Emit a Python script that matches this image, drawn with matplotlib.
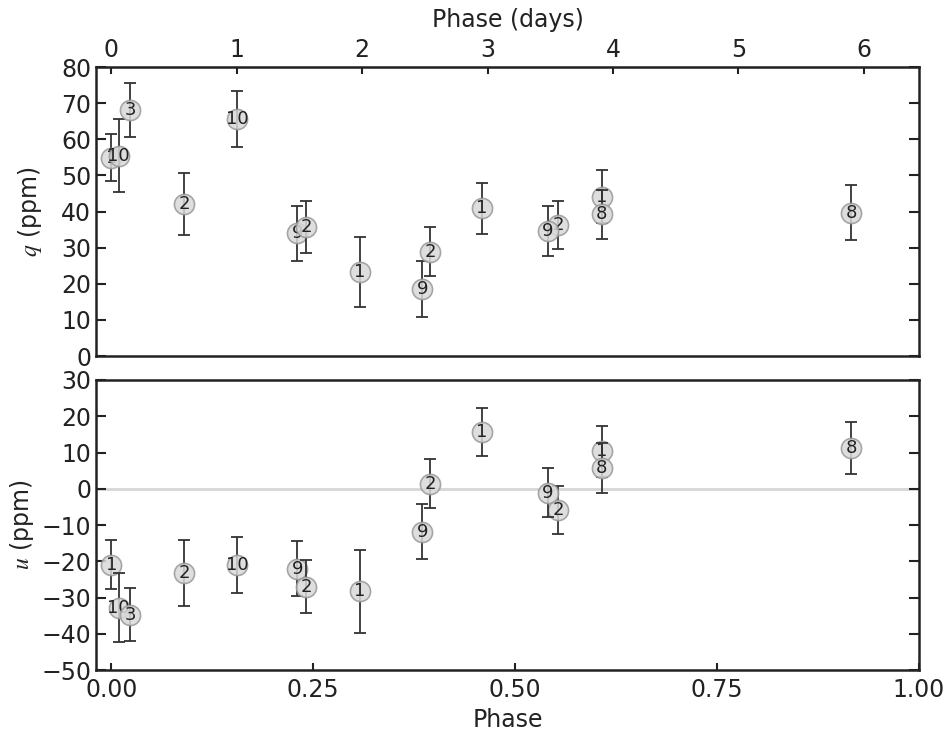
import matplotlib
matplotlib.use("Agg")
import matplotlib.pyplot as plt

# polarimetry per night, phase folded
period = 6.44  # days per phase unit (top axis)

night = ["1", "10", "3", "2", "10", "9", "2", "1", "9", "2", "1", "2", "9", "1", "8", "8"]
phase = [0.000, 0.009, 0.023, 0.090, 0.156, 0.230, 0.241, 0.308, 0.385, 0.395,
         0.459, 0.553, 0.540, 0.607, 0.607, 0.916]
q = [54.9, 55.4, 68.1, 42.0, 65.7, 34.0, 35.8, 23.2, 18.6, 28.9,
     40.9, 36.3, 34.6, 44.1, 39.2, 39.7]
q_err = [6.5, 10.1, 7.4, 8.6, 7.7, 7.6, 7.2, 9.7, 7.8, 6.7,
         7.0, 6.6, 6.9, 7.3, 6.8, 7.7]
u = [-20.9, -32.8, -34.8, -23.3, -21.0, -22.0, -27.0, -28.3, -11.8, 1.4,
     15.6, -5.9, -1.1, 10.3, 5.7, 11.3]
u_err = [6.7, 9.6, 7.3, 9.1, 7.7, 7.6, 7.4, 11.5, 7.6, 6.7,
         6.7, 6.6, 6.8, 7.1, 6.9, 7.2]

day_ticks = [0, 1, 2, 3, 4, 5, 6]

plt.rcParams['mathtext.fontset'] = 'stix'
plt.rcParams['font.size'] = 17

fig = plt.figure(figsize=(9.51, 7.35), dpi=100)
ax1 = fig.add_axes([0.101, 0.5156, 0.8654, 0.3932])
ax2 = fig.add_axes([0.101, 0.0884, 0.8654, 0.3946])


def draw_points(ax, y, yerr):
    for i in range(len(phase)):
        z = 3 + 3 * i
        ax.errorbar(phase[i], y[i], yerr=yerr[i], fmt='none', ecolor='#333333',
                    elinewidth=1.3, capsize=4, capthick=1.3, zorder=z)
        ax.plot(phase[i], y[i], 'o', ms=14.5, mfc='#d9d9d9', mec='#999999',
                mew=1.2, alpha=0.85, zorder=z + 1)
        ax.text(phase[i], y[i], night[i], fontsize=13, color='#222222',
                ha='center', va='center', zorder=z + 2)


def style(ax):
    for s in ax.spines.values():
        s.set_linewidth(1.8)
        s.set_color('#222222')
    ax.tick_params(axis='y', which='both', left=True, right=True,
                   direction='inout', length=7, width=1.5, labelsize=17,
                   colors='#222222')
    ax.tick_params(axis='y', which='both', right=True, direction='in')
    ax.set_xlim(-0.019, 1.0)


draw_points(ax1, q, q_err)
style(ax1)
ax1.set_ylim(0, 80)
ax1.set_yticks(range(0, 81, 10))
ax1.tick_params(axis='x', bottom=False, labelbottom=False)
ax1.set_ylabel(r'$q$ (ppm)', fontsize=17, labelpad=12, color='#222222')

top = ax1.secondary_xaxis('top', functions=(lambda p: p * period, lambda d: d / period))
top.set_xticks(day_ticks)
top.tick_params(direction='in', length=5, width=1.5, labelsize=17, colors='#222222')
top.set_xlabel('Phase (days)', fontsize=17, labelpad=8, color='#222222')

ax2.axhline(0, color='#d6d6d6', lw=2, zorder=1)
draw_points(ax2, u, u_err)
style(ax2)
ax2.set_ylim(-50, 30)
ax2.set_yticks(range(-50, 31, 10))
ax2.set_xticks([0, 0.25, 0.5, 0.75, 1.0])
ax2.set_xticklabels(['0.00', '0.25', '0.50', '0.75', '1.00'])
ax2.tick_params(axis='x', direction='in', length=5, width=1.5, labelsize=17, pad=6,
                colors='#222222')
ax2.set_xlabel('Phase', fontsize=17, labelpad=4, color='#222222')
ax2.set_ylabel(r'$u$ (ppm)', fontsize=17, labelpad=4, color='#222222')

fig.savefig('out.png', dpi=100)
